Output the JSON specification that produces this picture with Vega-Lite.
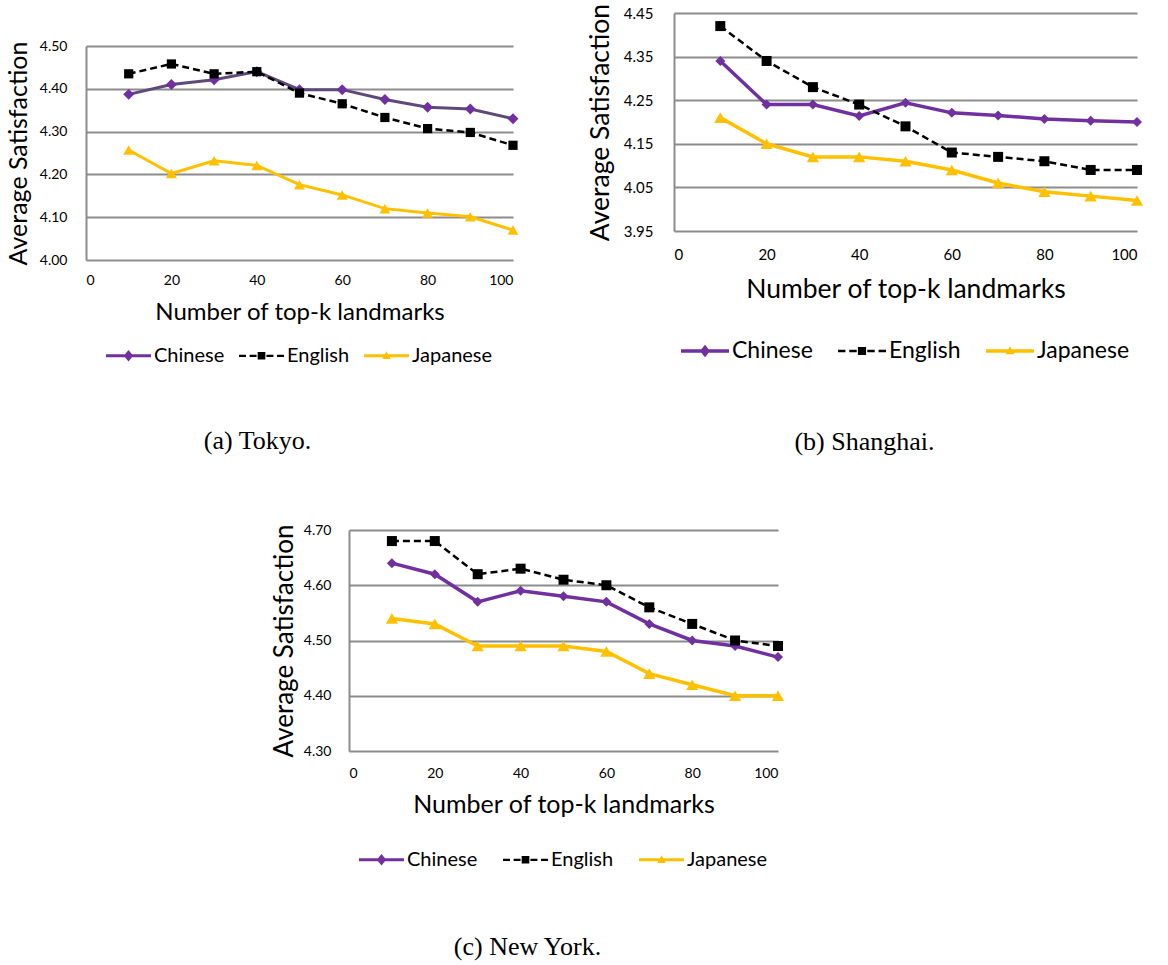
{
  "$schema": "https://vega.github.io/schema/vega-lite/v6.json",
  "background": "white",
  "padding": {"left": 5, "top": 2, "right": 5, "bottom": 5},
  "datasets": {
    "tokyo": [
      {"k": 10, "lang": "Chinese", "v": 4.387}, {"k": 20, "lang": "Chinese", "v": 4.41}, {"k": 30, "lang": "Chinese", "v": 4.421}, {"k": 40, "lang": "Chinese", "v": 4.44}, {"k": 50, "lang": "Chinese", "v": 4.398}, {"k": 60, "lang": "Chinese", "v": 4.398}, {"k": 70, "lang": "Chinese", "v": 4.375}, {"k": 80, "lang": "Chinese", "v": 4.357}, {"k": 90, "lang": "Chinese", "v": 4.353}, {"k": 100, "lang": "Chinese", "v": 4.33},
      {"k": 10, "lang": "English", "v": 4.435}, {"k": 20, "lang": "English", "v": 4.458}, {"k": 30, "lang": "English", "v": 4.435}, {"k": 40, "lang": "English", "v": 4.44}, {"k": 50, "lang": "English", "v": 4.39}, {"k": 60, "lang": "English", "v": 4.365}, {"k": 70, "lang": "English", "v": 4.333}, {"k": 80, "lang": "English", "v": 4.307}, {"k": 90, "lang": "English", "v": 4.298}, {"k": 100, "lang": "English", "v": 4.268},
      {"k": 10, "lang": "Japanese", "v": 4.257}, {"k": 20, "lang": "Japanese", "v": 4.202}, {"k": 30, "lang": "Japanese", "v": 4.232}, {"k": 40, "lang": "Japanese", "v": 4.221}, {"k": 50, "lang": "Japanese", "v": 4.176}, {"k": 60, "lang": "Japanese", "v": 4.152}, {"k": 70, "lang": "Japanese", "v": 4.12}, {"k": 80, "lang": "Japanese", "v": 4.11}, {"k": 90, "lang": "Japanese", "v": 4.101}, {"k": 100, "lang": "Japanese", "v": 4.07}
    ],
    "shanghai": [
      {"k": 10, "lang": "Chinese", "v": 4.34}, {"k": 20, "lang": "Chinese", "v": 4.24}, {"k": 30, "lang": "Chinese", "v": 4.24}, {"k": 40, "lang": "Chinese", "v": 4.214}, {"k": 50, "lang": "Chinese", "v": 4.244}, {"k": 60, "lang": "Chinese", "v": 4.221}, {"k": 70, "lang": "Chinese", "v": 4.215}, {"k": 80, "lang": "Chinese", "v": 4.207}, {"k": 90, "lang": "Chinese", "v": 4.203}, {"k": 100, "lang": "Chinese", "v": 4.2},
      {"k": 10, "lang": "English", "v": 4.42}, {"k": 20, "lang": "English", "v": 4.34}, {"k": 30, "lang": "English", "v": 4.28}, {"k": 40, "lang": "English", "v": 4.24}, {"k": 50, "lang": "English", "v": 4.19}, {"k": 60, "lang": "English", "v": 4.13}, {"k": 70, "lang": "English", "v": 4.12}, {"k": 80, "lang": "English", "v": 4.11}, {"k": 90, "lang": "English", "v": 4.09}, {"k": 100, "lang": "English", "v": 4.09},
      {"k": 10, "lang": "Japanese", "v": 4.21}, {"k": 20, "lang": "Japanese", "v": 4.15}, {"k": 30, "lang": "Japanese", "v": 4.12}, {"k": 40, "lang": "Japanese", "v": 4.12}, {"k": 50, "lang": "Japanese", "v": 4.11}, {"k": 60, "lang": "Japanese", "v": 4.09}, {"k": 70, "lang": "Japanese", "v": 4.06}, {"k": 80, "lang": "Japanese", "v": 4.04}, {"k": 90, "lang": "Japanese", "v": 4.03}, {"k": 100, "lang": "Japanese", "v": 4.02}
    ],
    "newyork": [
      {"k": 10, "lang": "Chinese", "v": 4.64}, {"k": 20, "lang": "Chinese", "v": 4.62}, {"k": 30, "lang": "Chinese", "v": 4.57}, {"k": 40, "lang": "Chinese", "v": 4.59}, {"k": 50, "lang": "Chinese", "v": 4.58}, {"k": 60, "lang": "Chinese", "v": 4.57}, {"k": 70, "lang": "Chinese", "v": 4.53}, {"k": 80, "lang": "Chinese", "v": 4.5}, {"k": 90, "lang": "Chinese", "v": 4.49}, {"k": 100, "lang": "Chinese", "v": 4.47},
      {"k": 10, "lang": "English", "v": 4.68}, {"k": 20, "lang": "English", "v": 4.68}, {"k": 30, "lang": "English", "v": 4.62}, {"k": 40, "lang": "English", "v": 4.63}, {"k": 50, "lang": "English", "v": 4.61}, {"k": 60, "lang": "English", "v": 4.6}, {"k": 70, "lang": "English", "v": 4.56}, {"k": 80, "lang": "English", "v": 4.53}, {"k": 90, "lang": "English", "v": 4.5}, {"k": 100, "lang": "English", "v": 4.49},
      {"k": 10, "lang": "Japanese", "v": 4.54}, {"k": 20, "lang": "Japanese", "v": 4.53}, {"k": 30, "lang": "Japanese", "v": 4.49}, {"k": 40, "lang": "Japanese", "v": 4.49}, {"k": 50, "lang": "Japanese", "v": 4.49}, {"k": 60, "lang": "Japanese", "v": 4.48}, {"k": 70, "lang": "Japanese", "v": 4.44}, {"k": 80, "lang": "Japanese", "v": 4.42}, {"k": 90, "lang": "Japanese", "v": 4.4}, {"k": 100, "lang": "Japanese", "v": 4.4}
    ]
  },
  "config": {
    "view": {"stroke": null},
    "font": "Lato",
    "axis": {"labelFont": "Lato", "titleFont": "Lato", "labelColor": "#000", "titleColor": "#000", "titleFontWeight": "normal", "ticks": false, "gridColor": "#8c8c8c", "gridWidth": 2, "domainColor": "#8c8c8c", "domainWidth": 2},
    "axisX": {"grid": false, "domain": false},
    "axisY": {"grid": true, "domain": true},
    "legend": {"layout": {"bottom": {"anchor": "middle", "bounds": "full"}}, "labelFont": "Lato", "labelColor": "#000", "symbolStrokeWidth": 0, "symbolOpacity": 1},
    "title": {"font": "Liberation Serif", "fontSize": 26, "fontWeight": "normal", "color": "#000"}
  },
  "spacing": 68,
  "resolve": {"scale": {"color": "independent", "shape": "independent"}, "legend": {"color": "independent", "shape": "independent"}},
  "vconcat": [
    {
      "spacing": 0,
      "resolve": {"scale": {"color": "independent", "shape": "independent"}, "legend": {"color": "independent", "shape": "independent"}},
      "hconcat": [
        {"data": {"name": "tokyo"}, "transform": [{"filter": "datum.v < 0"}], "mark": {"type": "point"}, "width": 1, "height": 1},
        {
          "spacing": 68,
          "resolve": {"scale": {"color": "independent", "shape": "independent"}, "legend": {"color": "independent", "shape": "independent"}},
          "hconcat": [
            {
              "spacing": 36,
              "resolve": {"scale": {"color": "independent", "shape": "independent"}, "legend": {"color": "independent", "shape": "independent"}},
              "vconcat": [
                {"data": {"name": "tokyo"}, "transform": [{"filter": "datum.v < 0"}], "mark": {"type": "point"}, "width": 1, "height": 1},
                {
                  "data": {"name": "tokyo"},
                  "width": 427,
                  "height": 214,
                  "title": {"text": "(a) Tokyo.", "orient": "bottom", "anchor": "middle", "frame": "group", "dx": -42, "offset": 62},
                  "encoding": {
                    "x": {"field": "k", "type": "quantitative", "scale": {"domain": [0, 100], "nice": false, "zero": false}, "axis": {"values": [0, 20, 40, 60, 80, 100], "labelFontSize": 14, "labelPadding": 13, "title": "Number of top-k landmarks", "titleFontSize": 24, "titlePadding": 13}},
                    "y": {"field": "v", "type": "quantitative", "scale": {"domain": [4.0, 4.5], "nice": false, "zero": false}, "axis": {"values": [4.0, 4.1, 4.2, 4.3, 4.4, 4.5], "format": ".2f", "labelFontSize": 14, "labelPadding": 19, "title": "Average Satisfaction", "titleFontSize": 25, "titlePadding": 8}}
                  },
                  "layer": [
                    {"transform": [{"filter": "datum.lang == 'Chinese'"}], "mark": {"type": "line", "color": "#5F497A", "strokeWidth": 3, "point": {"shape": "diamond", "filled": true, "size": 120, "color": "#7030A0", "opacity": 1}}, "encoding": {}},
                    {"transform": [{"filter": "datum.lang == 'English'"}], "mark": {"type": "line", "color": "#000000", "strokeWidth": 2.5, "strokeDash": [7, 4], "point": {"shape": "square", "filled": true, "size": 85, "color": "#000000", "opacity": 1}}, "encoding": {}},
                    {"transform": [{"filter": "datum.lang == 'Japanese'"}], "mark": {"type": "line", "color": "#FFC000", "strokeWidth": 3, "point": {"shape": "triangle-up", "filled": true, "size": 120, "color": "#FFC000", "opacity": 1}}, "encoding": {}},
                    {
                      "transform": [{"filter": "datum.v < 0"}],
                      "mark": {"type": "point", "filled": true, "opacity": 1},
                      "encoding": {
                        "color": {"field": "lang", "type": "nominal", "scale": {"domain": ["Chinese", "English", "Japanese"], "range": ["#7030A0", "#000000", "#FFC000"]}, "legend": {"title": null, "orient": "bottom", "direction": "horizontal", "labelFontSize": 20, "labelOffset": 3, "columnPadding": 14, "symbolSize": 2025, "offset": 9, "encode": {"symbols": {"update": {"opacity": {"value": 1}, "fillOpacity": {"value": 1}}}}}},
                        "shape": {"field": "lang", "type": "nominal", "scale": {"domain": ["Chinese", "English", "Japanese"], "range": ["M-1,-0.07H1V0.07H-1Z M0,-0.26L0.21,0L0,0.26L-0.21,0Z", "M-1,-0.05H-0.69V0.05H-1Z M-0.53,-0.05H-0.22V0.05H-0.53Z M-0.17,-0.17H0.17V0.17H-0.17Z M0.22,-0.05H0.53V0.05H0.22Z M0.69,-0.05H1V0.05H0.69Z", "M-1,-0.07H1V0.07H-1Z M0,-0.2L0.19,0.14H-0.19Z"]}, "legend": {"title": null, "orient": "bottom", "direction": "horizontal", "labelFontSize": 20, "labelOffset": 3, "columnPadding": 14, "symbolSize": 2025, "offset": 9, "encode": {"symbols": {"update": {"opacity": {"value": 1}, "fillOpacity": {"value": 1}}}}}}
                      }
                    }
                  ]
                }
              ]
            },
            {
              "spacing": 0,
              "resolve": {"scale": {"color": "independent", "shape": "independent"}, "legend": {"color": "independent", "shape": "independent"}},
              "vconcat": [
                {"data": {"name": "shanghai"}, "transform": [{"filter": "datum.v < 0"}], "mark": {"type": "point"}, "width": 1, "height": 1},
                {
                  "data": {"name": "shanghai"},
                  "width": 463,
                  "height": 218,
                  "title": {"text": "(b) Shanghai.", "orient": "bottom", "anchor": "middle", "frame": "group", "dx": -41, "offset": 66},
                  "encoding": {
                    "x": {"field": "k", "type": "quantitative", "scale": {"domain": [0, 100], "nice": false, "zero": false}, "axis": {"values": [0, 20, 40, 60, 80, 100], "labelFontSize": 15, "labelPadding": 16, "title": "Number of top-k landmarks", "titleFontSize": 26.5, "titlePadding": 14}},
                    "y": {"field": "v", "type": "quantitative", "scale": {"domain": [3.95, 4.45], "nice": false, "zero": false}, "axis": {"values": [3.95, 4.05, 4.15, 4.25, 4.35, 4.45], "format": ".2f", "labelFontSize": 15, "labelPadding": 21, "title": "Average Satisfaction", "titleFontSize": 26.5, "titlePadding": 9}}
                  },
                  "layer": [
                    {"transform": [{"filter": "datum.lang == 'Chinese'"}], "mark": {"type": "line", "color": "#7030A0", "strokeWidth": 3.5, "point": {"shape": "diamond", "filled": true, "size": 100, "color": "#7030A0", "opacity": 1}}, "encoding": {}},
                    {"transform": [{"filter": "datum.lang == 'English'"}], "mark": {"type": "line", "color": "#000000", "strokeWidth": 2.5, "strokeDash": [7, 4], "point": {"shape": "square", "filled": true, "size": 100, "color": "#000000", "opacity": 1}}, "encoding": {}},
                    {"transform": [{"filter": "datum.lang == 'Japanese'"}], "mark": {"type": "line", "color": "#FFC000", "strokeWidth": 3.5, "point": {"shape": "triangle-up", "filled": true, "size": 150, "color": "#FFC000", "opacity": 1}}, "encoding": {}},
                    {
                      "transform": [{"filter": "datum.v < 0"}],
                      "mark": {"type": "point", "filled": true, "opacity": 1},
                      "encoding": {
                        "color": {"field": "lang", "type": "nominal", "scale": {"domain": ["Chinese", "English", "Japanese"], "range": ["#7030A0", "#000000", "#FFC000"]}, "legend": {"title": null, "orient": "bottom", "direction": "horizontal", "labelFontSize": 23, "labelOffset": 3, "columnPadding": 25, "symbolSize": 2304, "offset": 24, "encode": {"symbols": {"update": {"opacity": {"value": 1}, "fillOpacity": {"value": 1}}}}}},
                        "shape": {"field": "lang", "type": "nominal", "scale": {"domain": ["Chinese", "English", "Japanese"], "range": ["M-1,-0.07H1V0.07H-1Z M0,-0.26L0.21,0L0,0.26L-0.21,0Z", "M-1,-0.05H-0.69V0.05H-1Z M-0.53,-0.05H-0.22V0.05H-0.53Z M-0.17,-0.17H0.17V0.17H-0.17Z M0.22,-0.05H0.53V0.05H0.22Z M0.69,-0.05H1V0.05H0.69Z", "M-1,-0.07H1V0.07H-1Z M0,-0.2L0.19,0.14H-0.19Z"]}, "legend": {"title": null, "orient": "bottom", "direction": "horizontal", "labelFontSize": 23, "labelOffset": 3, "columnPadding": 25, "symbolSize": 2304, "offset": 24, "encode": {"symbols": {"update": {"opacity": {"value": 1}, "fillOpacity": {"value": 1}}}}}}
                      }
                    }
                  ]
                }
              ]
            }
          ]
        }
      ]
    },
    {
      "spacing": 0,
      "resolve": {"scale": {"color": "independent", "shape": "independent"}, "legend": {"color": "independent", "shape": "independent"}},
      "hconcat": [
        {"data": {"name": "newyork"}, "transform": [{"filter": "datum.v < 0"}], "mark": {"type": "point"}, "width": 266, "height": 1},
        {
          "data": {"name": "newyork"},
          "width": 429,
          "height": 221,
          "title": {"text": "(c) New York.", "orient": "bottom", "anchor": "middle", "frame": "group", "dx": -36, "offset": 64},
          "encoding": {
            "x": {"field": "k", "type": "quantitative", "scale": {"domain": [0, 100], "nice": false, "zero": false}, "axis": {"values": [0, 20, 40, 60, 80, 100], "labelFontSize": 14, "labelPadding": 15, "title": "Number of top-k landmarks", "titleFontSize": 25, "titlePadding": 12}},
            "y": {"field": "v", "type": "quantitative", "scale": {"domain": [4.3, 4.7], "nice": false, "zero": false}, "axis": {"values": [4.3, 4.4, 4.5, 4.6, 4.7], "format": ".2f", "labelFontSize": 14, "labelPadding": 18, "title": "Average Satisfaction", "titleFontSize": 26, "titlePadding": 6}}
          },
          "layer": [
            {"transform": [{"filter": "datum.lang == 'Chinese'"}], "mark": {"type": "line", "color": "#7030A0", "strokeWidth": 3.5, "point": {"shape": "diamond", "filled": true, "size": 100, "color": "#7030A0", "opacity": 1}}, "encoding": {}},
            {"transform": [{"filter": "datum.lang == 'English'"}], "mark": {"type": "line", "color": "#000000", "strokeWidth": 2.5, "strokeDash": [7, 4], "point": {"shape": "square", "filled": true, "size": 100, "color": "#000000", "opacity": 1}}, "encoding": {}},
            {"transform": [{"filter": "datum.lang == 'Japanese'"}], "mark": {"type": "line", "color": "#FFC000", "strokeWidth": 3.5, "point": {"shape": "triangle-up", "filled": true, "size": 150, "color": "#FFC000", "opacity": 1}}, "encoding": {}},
            {
              "transform": [{"filter": "datum.v < 0"}],
              "mark": {"type": "point", "filled": true, "opacity": 1},
              "encoding": {
                "color": {"field": "lang", "type": "nominal", "scale": {"domain": ["Chinese", "English", "Japanese"], "range": ["#7030A0", "#000000", "#FFC000"]}, "legend": {"title": null, "orient": "bottom", "direction": "horizontal", "labelFontSize": 20, "labelOffset": 3, "columnPadding": 25, "symbolSize": 2025, "offset": 20, "encode": {"symbols": {"update": {"opacity": {"value": 1}, "fillOpacity": {"value": 1}}}}}},
                "shape": {"field": "lang", "type": "nominal", "scale": {"domain": ["Chinese", "English", "Japanese"], "range": ["M-1,-0.07H1V0.07H-1Z M0,-0.26L0.21,0L0,0.26L-0.21,0Z", "M-1,-0.05H-0.69V0.05H-1Z M-0.53,-0.05H-0.22V0.05H-0.53Z M-0.17,-0.17H0.17V0.17H-0.17Z M0.22,-0.05H0.53V0.05H0.22Z M0.69,-0.05H1V0.05H0.69Z", "M-1,-0.07H1V0.07H-1Z M0,-0.2L0.19,0.14H-0.19Z"]}, "legend": {"title": null, "orient": "bottom", "direction": "horizontal", "labelFontSize": 20, "labelOffset": 3, "columnPadding": 25, "symbolSize": 2025, "offset": 20, "encode": {"symbols": {"update": {"opacity": {"value": 1}, "fillOpacity": {"value": 1}}}}}}
              }
            }
          ]
        }
      ]
    }
  ]
}
